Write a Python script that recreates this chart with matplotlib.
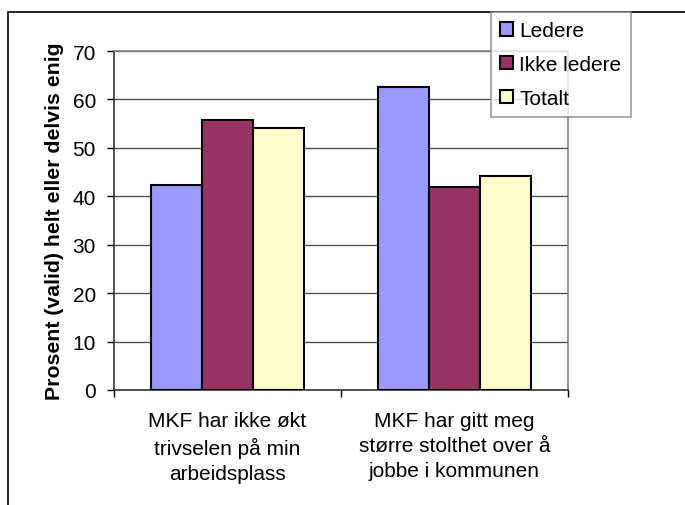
import matplotlib.pyplot as plt
import numpy as np
from matplotlib.patches import Rectangle

categories = ["MKF har ikke økt\ntrivselen på min\narbeidsplass",
              "MKF har gitt meg\nstørre stolthet over å\njobbe i kommunen"]
series_names = ["Ledere", "Ikke ledere", "Totalt"]
ledere = [42.4, 62.6]
ikke_ledere = [55.8, 41.9]
totalt = [54.2, 44.2]
colors = ["#9999FF", "#993366", "#FFFFCC"]

plt.rcParams['font.family'] = ['Liberation Sans', 'DejaVu Sans']
fs = 15

fig = plt.figure(figsize=(6.85, 5.06), dpi=100)
ax = fig.add_axes([114/685, 1 - 391/506, (568 - 114)/685, (391 - 52)/506])

x = np.arange(len(categories))
w = 0.225
for i, (vals, name) in enumerate(zip([ledere, ikke_ledere, totalt], series_names)):
    ax.bar(x + (i - 1) * w, vals, w, color=colors[i], edgecolor='black',
           linewidth=1.5, label=name, zorder=3)

ax.set_xlim(-0.5, 1.5)
ax.set_ylim(0, 70)
ax.set_yticks(range(0, 71, 10))
ax.yaxis.grid(True, color='#444444', linewidth=0.9, zorder=0)
ax.set_axisbelow(True)

ax.set_xticks(x)
ax.set_xticklabels(categories, fontsize=fs, linespacing=1.42)
ax.tick_params(axis='x', which='major', length=0, pad=15)
ax.set_xticks([-0.5, 0.5, 1.5], minor=True)
ax.tick_params(axis='x', which='minor', length=5, width=1, color='black', direction='out')
ax.tick_params(axis='y', labelsize=fs, length=5, width=1, direction='out', pad=8)

for s in ['top', 'right']:
    ax.spines[s].set_color('#808080')
    ax.spines[s].set_linewidth(1.2)
for s in ['left', 'bottom']:
    ax.spines[s].set_color('#333333')
    ax.spines[s].set_linewidth(1.2)

ax.set_ylabel("Prosent (valid) helt eller delvis enig", fontsize=15.3,
              fontweight='bold', labelpad=6)

leg = fig.legend(loc='upper left', bbox_to_anchor=(491/685, 1 - 13/506),
                 bbox_transform=fig.transFigure, borderaxespad=0, fontsize=fs,
                 frameon=True, fancybox=False, edgecolor='#808080',
                 handlelength=0.6, handleheight=0.6, handletextpad=0.3,
                 labelspacing=0.7, borderpad=0.45)
leg.get_frame().set_linewidth(1.2)
leg.set_zorder(5)

# outer chart border (only left and top visible)
fig.patches.append(Rectangle((8/685, -0.1), 1.2, 1 - 13/506 + 0.1,
                             transform=fig.transFigure, fill=False,
                             edgecolor='black', linewidth=1.2))

fig.savefig("out.png", dpi=100)
